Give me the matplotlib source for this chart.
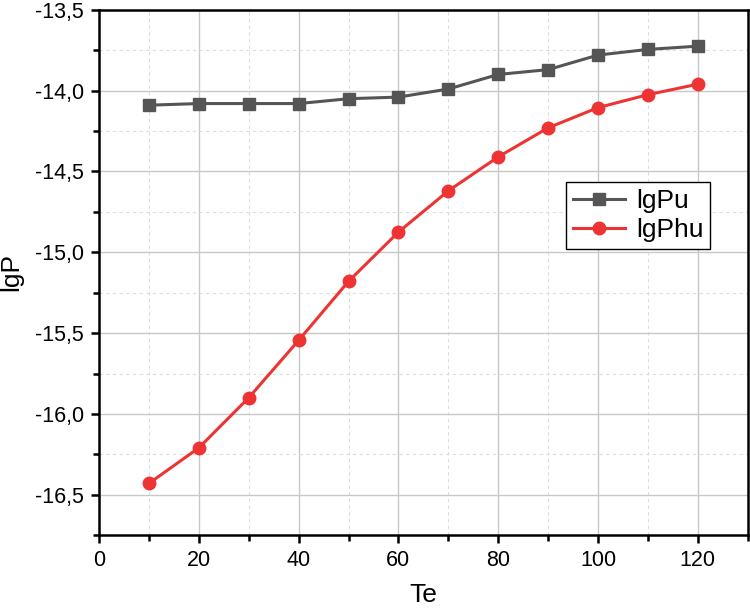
import matplotlib.pyplot as plt
from matplotlib.ticker import MultipleLocator, FuncFormatter

plt.rcParams['font.family'] = ['Liberation Sans', 'DejaVu Sans']

# datos
te = [10, 20, 30, 40, 50, 60, 70, 80, 90, 100, 110, 120]
lgPu = [-14.09, -14.08, -14.08, -14.08, -14.05, -14.04, -13.99, -13.90, -13.87, -13.78, -13.745, -13.725]
lgPhu = [-16.43, -16.21, -15.90, -15.545, -15.18, -14.875, -14.62, -14.41, -14.23, -14.105, -14.025, -13.96]

fig = plt.figure(figsize=(7.5, 6.13), dpi=100)
ax = fig.add_axes([0.132, 0.127, 0.865, 0.857])

ax.plot(te, lgPu, color='#555555', marker='s', markersize=8, linewidth=2.2, label='lgPu')
ax.plot(te, lgPhu, color='#ee3333', marker='o', markersize=9, linewidth=2.2, label='lgPhu')

ax.set_xlim(0, 130)
ax.set_ylim(-16.75, -13.5)
ax.xaxis.set_major_locator(MultipleLocator(20))
ax.xaxis.set_minor_locator(MultipleLocator(10))
ax.yaxis.set_major_locator(MultipleLocator(0.5))
ax.yaxis.set_minor_locator(MultipleLocator(0.25))
ax.yaxis.set_major_formatter(FuncFormatter(lambda v, p: f"{v:.1f}".replace('.', ',')))

# rejilla
ax.grid(True, which='major', color='#c8c8c8', linewidth=1)
ax.grid(True, which='minor', color='#dcdcdc', linewidth=0.8, linestyle=(0, (3, 3)))
ax.set_axisbelow(True)

ax.tick_params(which='major', direction='out', length=6, width=1.8, labelsize=15.5, pad=5)
ax.tick_params(which='minor', direction='out', length=4, width=1.8)
for s in ax.spines.values():
    s.set_linewidth(1.8)

ax.set_xlabel('Te', fontsize=19, labelpad=8)
ax.set_ylabel('lgP', fontsize=19, labelpad=8)

ax.legend(loc='lower left', bbox_to_anchor=(0.72, 0.545), fontsize=19,
          fancybox=False, edgecolor='black', framealpha=1,
          handlelength=2.0, borderpad=0.25, labelspacing=0.2, handletextpad=0.4,
          borderaxespad=0)

plt.savefig('out.png', dpi=100)
